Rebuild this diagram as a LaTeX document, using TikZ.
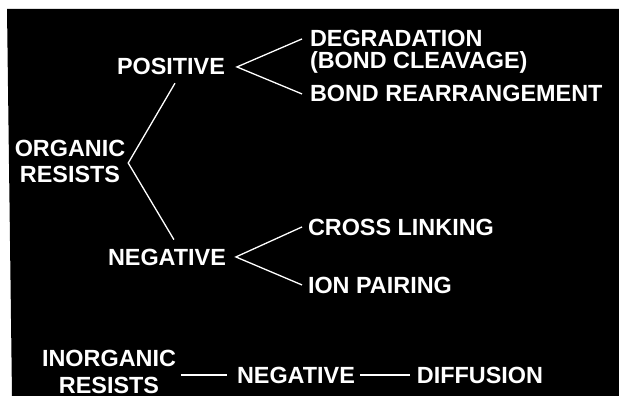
\documentclass[tikz,border=0pt]{standalone}
\usepackage{fontspec}
\setmainfont{Liberation Sans}
\usepackage{tikz}
\usetikzlibrary{positioning,calc}
\definecolor{slidebg}{RGB}{0,0,0}
\definecolor{slideink}{RGB}{255,255,255}
\tikzset{
  lbl/.style   ={inner sep=0pt, outer sep=0pt, text=slideink,
                 font=\bfseries\fontsize{23.4}{26}\selectfont},
  branch/.style={draw=slideink, line width=1.3pt},
}
\begin{document}
\begin{tikzpicture}[x=1pt,y=1pt]
\useasboundingbox (0,0) rectangle (619,-396);
\fill[slidebg] (7,-9) -- (619,-9) -- (619,-396) -- (12,-396) -- cycle;
% organic resists
\node[lbl, align=center] (org) at (70,-161.5) {ORGANIC\\RESISTS};
\node[lbl, anchor=base west] (pos) at (117,-75) {POSITIVE};
\node[lbl, anchor=base west] (neg) at (108,-265) {NEGATIVE};
\node[lbl, anchor=base west] (deg) at (310,-47) {DEGRADATION};
\node[lbl, anchor=base west] (clv) at ([yshift=-21.5pt]deg.base west) {(BOND CLEAVAGE)};
\node[lbl, anchor=base west] (rea) at ([yshift=-55pt]deg.base west) {BOND REARRANGEMENT};
\node[lbl, anchor=base west] (crl) at (308,-235) {CROSS LINKING};
\node[lbl, anchor=base west] (ion) at (308,-293) {ION PAIRING};
\coordinate (orgtip) at ([shift={(3pt,-1.5pt)}]org.east);
\coordinate (postip) at ([xshift=12pt]pos.east);
\coordinate (negtip) at ([xshift=10pt]neg.east);
\draw[branch] ([shift={(4pt,-8pt)}]pos.south) -- (orgtip) -- ([shift={(7pt,9pt)}]neg.north);
\draw[branch] ([xshift=-8pt]deg.west) -- (postip) -- ([xshift=-8pt]rea.west);
\draw[branch] ([xshift=-6pt]crl.west) -- (negtip) -- ([xshift=-6pt]ion.west);
% inorganic resists
\node[lbl, align=center] (inorg) at (109,-371.5) {INORGANIC\\[1pt]RESISTS};
\node[lbl, anchor=base west] (neg2) at (237,-383) {NEGATIVE};
\node[lbl, right=62pt of neg2] (dif) {DIFFUSION};
\draw[branch] ($(inorg.east |- neg2.west)+(5pt,0)$) -- ([xshift=-10pt]neg2.west);
\draw[branch] ([xshift=5pt]neg2.east) -- ([xshift=-7pt]dif.west);
\end{tikzpicture}
\end{document}
